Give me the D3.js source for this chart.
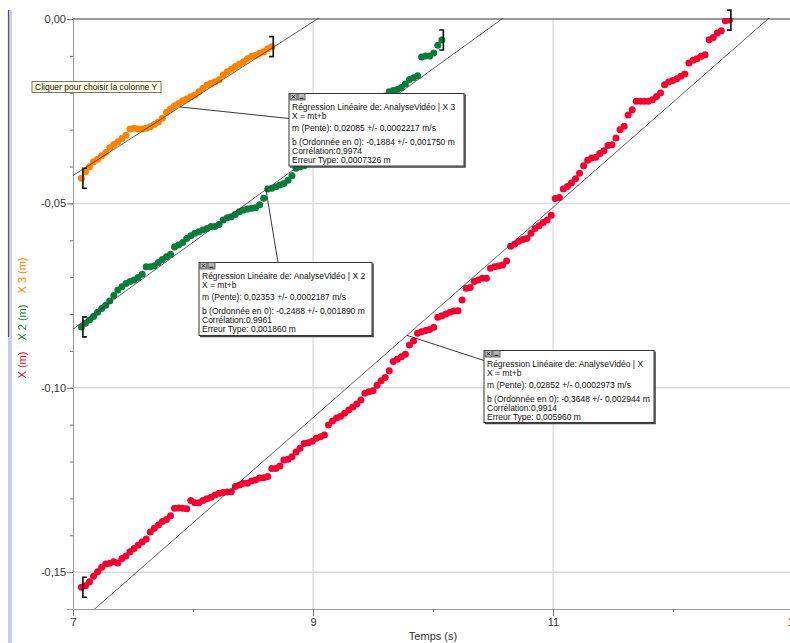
<!DOCTYPE html>
<html>
<head>
<meta charset="utf-8">
<script src="https://cdn.jsdelivr.net/npm/d3@7"></script>
<style>
    html, body { margin: 0; padding: 0; background: #fff; overflow: hidden; }
    svg { display: block; font-family: "Liberation Sans", Arial, sans-serif; }
</style>
</head>
<body>
<div id="chart"></div>
<script>
// video frames: time of first frame and frame step (s)
const timeStart = 7.07;
const frameStep = 0.03375;

// X (m)
const xValues = [
    -0.1541, -0.1537, -0.1526, -0.1511, -0.1499, -0.1487, -0.1478, -0.1476, -0.1472, -0.1475,
    -0.1463, -0.1456, -0.1445, -0.1436, -0.1427, -0.1418, -0.1410, -0.1391, -0.1381, -0.1372,
    -0.1363, -0.1357, -0.1347, -0.1327, -0.1326, -0.1327, -0.1328, -0.1306, -0.1312, -0.1312,
    -0.1306, -0.1301, -0.1297, -0.1291, -0.1286, -0.1284, -0.1283, -0.1282, -0.1268, -0.1264,
    -0.1259, -0.1259, -0.1253, -0.1250, -0.1245, -0.1244, -0.1241, -0.1219, -0.1219, -0.1212,
    -0.1196, -0.1194, -0.1187, -0.1174, -0.1164, -0.1151, -0.1149, -0.1145, -0.1137, -0.1133,
    -0.1128, -0.1101, -0.1090, -0.1082, -0.1077, -0.1069, -0.1060, -0.1052, -0.1044, -0.1033,
    -0.1015, -0.1011, -0.1008, -0.0993, -0.0981, -0.0972, -0.0954, -0.0929, -0.0923, -0.0916,
    -0.0909, -0.0884, -0.0873, -0.0852, -0.0848, -0.0845, -0.0842, -0.0836, -0.0809, -0.0805,
    -0.0800, -0.0795, -0.0792, -0.0791, -0.0762, -0.0730, -0.0728, -0.0712, -0.0708, -0.0703,
    -0.0703, -0.0676, -0.0672, -0.0670, -0.0667, -0.0656, -0.0616, -0.0610, -0.0603, -0.0598,
    -0.0595, -0.0581, -0.0568, -0.0561, -0.0552, -0.0545, -0.0532, -0.0487, -0.0484, -0.0461,
    -0.0454, -0.0445, -0.0433, -0.0418, -0.0398, -0.0383, -0.0377, -0.0375, -0.0365, -0.0357,
    -0.0343, -0.0341, -0.0323, -0.0300, -0.0291, -0.0260, -0.0246, -0.0223, -0.0223, -0.0223,
    -0.0223, -0.0219, -0.0210, -0.0201, -0.0178, -0.0171, -0.0167, -0.0162, -0.0155, -0.0149,
    -0.0119, -0.0112, -0.0108, -0.0101, -0.0097, -0.0056, -0.0050, -0.0038, -0.0032, -0.0005,
    -0.0003
];

// X 2 (m)
const x2Values = [
    -0.0835, -0.0825, -0.0816, -0.0807, -0.0795, -0.0785, -0.0776, -0.0765, -0.0750, -0.0735,
    -0.0726, -0.0717, -0.0712, -0.0708, -0.0701, -0.0692, -0.0672, -0.0672, -0.0669, -0.0660,
    -0.0652, -0.0645, -0.0638, -0.0618, -0.0613, -0.0606, -0.0595, -0.0588, -0.0581, -0.0577,
    -0.0572, -0.0568, -0.0563, -0.0563, -0.0557, -0.0545, -0.0539, -0.0536, -0.0530, -0.0523,
    -0.0518, -0.0515, -0.0513, -0.0512, -0.0504, -0.0486, -0.0461, -0.0459, -0.0455, -0.0450,
    -0.0446, -0.0437, -0.0425, -0.0405, -0.0401, -0.0398, -0.0391, -0.0385, -0.0377, -0.0369,
    -0.0361, -0.0355, -0.0347, -0.0336, -0.0328, -0.0320, -0.0309, -0.0301, -0.0293, -0.0282,
    -0.0269, -0.0255, -0.0241, -0.0231, -0.0220, -0.0209, -0.0197, -0.0194, -0.0191, -0.0186,
    -0.0176, -0.0164, -0.0159, -0.0154, -0.0103, -0.0100, -0.0100, -0.0092, -0.0071, -0.0057
];

// X 3 (m)
const x3Values = [
    -0.0432, -0.0414, -0.0401, -0.0387, -0.0380, -0.0371, -0.0362, -0.0349, -0.0340, -0.0333,
    -0.0324, -0.0315, -0.0298, -0.0296, -0.0298, -0.0298, -0.0296, -0.0292, -0.0286, -0.0279,
    -0.0269, -0.0253, -0.0244, -0.0235, -0.0229, -0.0222, -0.0217, -0.0211, -0.0206, -0.0197,
    -0.0188, -0.0179, -0.0174, -0.0170, -0.0165, -0.0152, -0.0143, -0.0136, -0.0129, -0.0123,
    -0.0116, -0.0108, -0.0102, -0.0098, -0.0093, -0.0089, -0.0081, -0.0075
];

const seriesNames = ["X", "X 2", "X 3"];
const seriesColors = ["#f50030", "#0b7d3b", "#ff8300"];

// linear fits X = mt+b
const slopes = [0.02852, 0.02353, 0.02085];
const slopeErrors = [0.0002973, 0.0002187, 0.0002217];
const intercepts = [-0.3648, -0.2488, -0.1884];
const interceptErrors = [0.002944, 0.001890, 0.001750];
const correlations = [0.9914, 0.9961, 0.9974];
const stdErrors = [0.005960, 0.001860, 0.0007326];

const xTicks = [7, 9, 11, 13];
const xMinorTicks = [8, 10, 12];
const yTicks = [0, -0.05, -0.10, -0.15];

const W = 790, H = 643;
const plot = { left: 73, top: 19, right: 793, bottom: 609 };

const fr = v => v.toPrecision(4).replace(".", ",");

let svg = d3.select("#chart").append("svg")
    .attr("width", W)
    .attr("height", H);

let x = d3.scaleLinear().domain([7, 13]).range([plot.left, plot.right]);
let y = d3.scaleLinear().domain([-0.16, 0]).range([plot.bottom, plot.top]);

// left side bar
svg.append("rect").attr("x", 8).attr("y", 10).attr("width", 4).attr("height", H - 10).attr("fill", "#cacaf2");
svg.append("line").attr("x1", 8.5).attr("x2", 8.5).attr("y1", 10).attr("y2", 337)
    .attr("stroke", "#555").attr("stroke-width", 1.2);

// grid
let grid = svg.append("g").attr("class", "grids");
grid.selectAll(".gx").data(xTicks.filter(d => d > 7))
    .join("line")
    .attr("x1", d => x(d)).attr("x2", d => x(d))
    .attr("y1", plot.top).attr("y2", plot.bottom)
    .attr("stroke", "#dadada").attr("stroke-width", 1.2);
grid.selectAll(".gy").data(yTicks.filter(d => d < 0))
    .join("line")
    .attr("x1", plot.left).attr("x2", W)
    .attr("y1", d => y(d)).attr("y2", d => y(d))
    .attr("stroke", "#dadada").attr("stroke-width", 1.5);

// axes
function StyleAxis(g) {
    g.select(".domain").attr("stroke", "#9a9a9a");
    g.selectAll(".tick line").attr("stroke", "#777");
    g.selectAll("text").attr("font-size", 11).attr("fill", "#333").attr("font-family", "Liberation Sans, Arial, sans-serif");
}

svg.append("g").attr("transform", `translate(0, ${plot.bottom})`)
    .call(d3.axisBottom(x).tickValues(xTicks).tickSize(7).tickPadding(2).tickFormat(d3.format("d")))
    .call(StyleAxis);
svg.append("g").attr("transform", `translate(0, ${plot.bottom})`)
    .call(d3.axisBottom(x).tickValues(xMinorTicks).tickSize(3).tickFormat(""))
    .call(g => g.select(".domain").remove())
    .call(StyleAxis);

svg.append("g").attr("transform", `translate(${plot.left}, 0)`)
    .call(d3.axisLeft(y).tickValues(d3.range(-16, 1).map(k => k / 100)).tickSize(3).tickFormat(""))
    .call(g => g.select(".domain").remove())
    .call(StyleAxis);
svg.append("g").attr("transform", `translate(${plot.left}, 0)`)
    .call(d3.axisLeft(y).tickValues(yTicks).tickSize(6).tickPadding(1)
        .tickFormat(d => d.toFixed(2).replace(".", ",")))
    .call(StyleAxis);

// top line at 0
svg.append("line")
    .attr("x1", plot.left).attr("x2", W)
    .attr("y1", y(0)).attr("y2", y(0))
    .attr("stroke", "#9a9a9a").attr("stroke-width", 2);

// axis titles
svg.append("text")
    .attr("x", (plot.left + plot.right) / 2)
    .attr("y", 640)
    .attr("text-anchor", "middle")
    .attr("font-size", 11)
    .attr("fill", "#333")
    .text("Temps (s)");

let yTitle = svg.append("text")
    .attr("transform", `translate(26, ${(plot.top + plot.bottom) / 2 + 4}) rotate(-90)`)
    .attr("text-anchor", "middle")
    .attr("font-size", 11);
seriesNames.forEach((name, i) => {
    yTitle.append("tspan")
        .attr("dx", i == 0 ? 0 : 11)
        .attr("fill", seriesColors[i])
        .text(`${name} (m)`);
});

// clip to plot area
svg.append("clipPath").attr("id", "plotclip")
    .append("rect")
    .attr("x", plot.left).attr("y", plot.top - 1)
    .attr("width", plot.right - plot.left).attr("height", plot.bottom - plot.top + 1);

let allSeries = [xValues, x2Values, x3Values].map((vals, i) => vals.map((v, k) => ({
    t: timeStart + k * frameStep,
    v: v,
    s: i
})));

let dataLayer = svg.append("g").attr("clip-path", "url(#plotclip)");

allSeries.forEach((pts, i) => {
    dataLayer.append("g")
        .selectAll("circle")
        .data(pts)
        .join("circle")
        .attr("cx", d => x(d.t))
        .attr("cy", d => y(d.v))
        .attr("r", 3.5)
        .attr("fill", seriesColors[i]);
});

// regression lines across the whole plot
slopes.forEach((m, i) => {
    let b = intercepts[i];
    dataLayer.append("line")
        .attr("x1", x(7)).attr("y1", y(m * 7 + b))
        .attr("x2", x(13)).attr("y2", y(m * 13 + b))
        .attr("stroke", "#3a3a3a")
        .attr("stroke-width", 0.8);
});

// range brackets
allSeries.forEach(pts => {
    let first = pts[0], last = pts[pts.length - 1];
    [[first, 1], [last, -1]].forEach(([p, dir]) => {
        let bx = x(p.t) + 1.5, by = y(p.v);
        svg.append("path")
            .attr("d", `M${bx + 4 * dir},${by - 10} H${bx} V${by + 10} H${bx + 4 * dir}`)
            .attr("fill", "none")
            .attr("stroke", "#111")
            .attr("stroke-width", 1.6);
    });
});

// fit info boxes
let boxes = [
    { left: 484, top: 350.5, w: 170, h: 72, anchorT: 9.783, end: [0, 10] },
    { left: 199, top: 262.5, w: 173, h: 73, anchorT: 8.608, end: [79, 0] },
    { left: 289, top: 93.5, w: 175, h: 72.5, anchorT: 7.892, end: [0, 25] }
];

boxes.forEach((bx, i) => {
    let ax = x(bx.anchorT), ay = y(slopes[i] * bx.anchorT + intercepts[i]);
    svg.append("line")
        .attr("x1", ax).attr("y1", ay)
        .attr("x2", bx.left + bx.end[0]).attr("y2", bx.top + bx.end[1])
        .attr("stroke", "#222").attr("stroke-width", 0.9);
});

boxes.forEach((bx, i) => {
    let g = svg.append("g").attr("transform", `translate(${bx.left}, ${bx.top})`);
    g.append("rect")
        .attr("width", bx.w).attr("height", bx.h)
        .attr("fill", "#fff").attr("stroke", "#333").attr("stroke-width", 1);
    g.append("path")
        .attr("d", `M${bx.w + 1},1 V${bx.h + 1} H1`)
        .attr("fill", "none").attr("stroke", "#444").attr("stroke-width", 1.6);

    // close / minimise icons
    g.append("rect").attr("x", 1).attr("y", 0).attr("width", 7).attr("height", 6.5)
        .attr("fill", "#b8b8b8").attr("stroke", "#444").attr("stroke-width", 0.8);
    g.append("path").attr("d", "M2.8,1.6 L6.2,5 M6.2,1.6 L2.8,5")
        .attr("stroke", "#111").attr("stroke-width", 0.9);
    g.append("rect").attr("x", 9).attr("y", 0).attr("width", 7).attr("height", 6.5)
        .attr("fill", "#b8b8b8").attr("stroke", "#444").attr("stroke-width", 0.8);
    g.append("line").attr("x1", 10.5).attr("x2", 14.5).attr("y1", 4.8).attr("y2", 4.8)
        .attr("stroke", "#111").attr("stroke-width", 1);

    let lines = [
        [16.5, `Régression Linéaire de: AnalyseVidéo | ${seriesNames[i]}`],
        [25, "X = mt+b"],
        [37, `m (Pente): ${fr(slopes[i])} +/- ${fr(slopeErrors[i])} m/s`],
        [51, `b (Ordonnée en 0): ${fr(intercepts[i])} +/- ${fr(interceptErrors[i])} m`],
        [60.5, `Corrélation:${fr(correlations[i])}`],
        [69.5, `Erreur Type: ${fr(stdErrors[i])} m`]
    ];
    g.selectAll("text.info")
        .data(lines)
        .join("text")
        .attr("class", "info")
        .attr("x", 3)
        .attr("y", d => d[0])
        .attr("font-size", 8.5)
        .attr("fill", "#111")
        .text(d => d[1]);
});

// tooltip
let tip = svg.append("g").attr("transform", "translate(32, 81.5)");
tip.append("rect").attr("width", 129).attr("height", 11)
    .attr("fill", "#ffffe1").attr("stroke", "#555").attr("stroke-width", 0.8);
tip.append("text").attr("x", 3).attr("y", 8.6)
    .attr("font-size", 8.5).attr("fill", "#111")
    .text("Cliquer pour choisir la colonne Y");
</script>
</body>
</html>
